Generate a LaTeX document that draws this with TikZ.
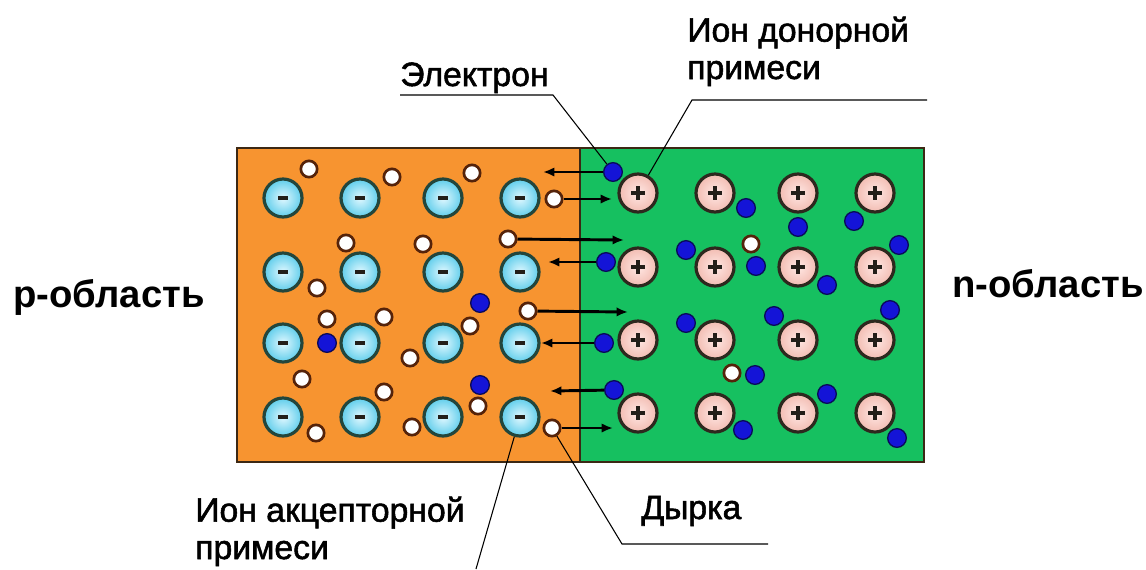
\documentclass[tikz,border=0pt]{standalone}
\usepackage{fontspec}
\setmainfont{Liberation Sans}
\newfontfamily\lblfont[FakeBold=1.6]{Liberation Sans}
\usetikzlibrary{arrows.meta}
\definecolor{porange}{RGB}{247,148,48}
\definecolor{ngreen}{RGB}{22,192,96}
\definecolor{boxline}{RGB}{60,40,20}
\definecolor{negring}{RGB}{35,70,60}
\definecolor{negin}{RGB}{225,248,255}
\definecolor{negout}{RGB}{95,205,235}
\definecolor{posring}{RGB}{45,40,30}
\definecolor{posin}{RGB}{255,232,228}
\definecolor{posout}{RGB}{242,188,178}
\definecolor{holering}{RGB}{85,35,10}
\definecolor{eblue}{RGB}{20,20,215}
\definecolor{ering}{RGB}{10,10,90}
\definecolor{signc}{RGB}{35,30,25}
\tikzset{
  negion/.style={circle, draw=negring, line width=2.4pt, minimum size=28.5pt, inner sep=0pt,
    inner color=negin, outer color=negout,
    path picture={\fill[signc] ([xshift=-3.9pt,yshift=-1.6pt]path picture bounding box.center) rectangle ([xshift=3.9pt,yshift=1.6pt]path picture bounding box.center);}},
  posion/.style={circle, draw=posring, line width=2.4pt, minimum size=28.5pt, inner sep=0pt,
    inner color=posin, outer color=posout,
    path picture={\fill[signc] ([xshift=-5.4pt,yshift=-1.3pt]path picture bounding box.center) rectangle ([xshift=5.4pt,yshift=1.3pt]path picture bounding box.center);
                  \fill[signc] ([xshift=-1.3pt,yshift=-5.4pt]path picture bounding box.center) rectangle ([xshift=1.3pt,yshift=5.4pt]path picture bounding box.center);}},
  hole/.style={circle, draw=holering, fill=white, line width=2pt, minimum size=12.25pt, inner sep=0pt},
  elec/.style={circle, draw=ering, fill=eblue, line width=1pt, minimum size=14pt, inner sep=0pt},
  arr/.style={draw=black, line width=2.2pt, -{Latex[length=8.5pt,width=7pt]}},
  leader/.style={draw=black, line width=0.8pt},
  lbl/.style={font=\lblfont\fontsize{25.3}{28}\selectfont, inner sep=0pt, anchor=base west, align=left},
  region/.style={font=\bfseries\fontsize{28.7}{32}\selectfont, inner sep=0pt, anchor=base west}
}
\begin{document}
\begin{tikzpicture}[x=0.75pt,y=-0.75pt]
\useasboundingbox (0,0) rectangle (1146,569);
\fill[white] (0,0) rectangle (1146,569);
% regions
\fill[porange] (237,148) rectangle (580,462);
\fill[ngreen] (580,148) rectangle (924,462);
\draw[boxline, line width=1.8pt] (237,148) rectangle (924,462);
\draw[boxline, line width=1.8pt] (580,148) -- (580,462);
% acceptor ions
\foreach \r/\y in {1/198,2/272,3/343,4/417}{
  \foreach \c/\x in {1/283,2/360,3/443,4/520}{
    \node[negion] (A\r\c) at (\x,\y) {};
  }
}
% donor ions
\foreach \r/\y in {1/193,2/267,3/340,4/413}{
  \foreach \c/\x in {1/638,2/715,3/798,4/875}{
    \node[posion] (D\r\c) at (\x,\y) {};
  }
}
% holes
\node[hole] (h1) at (309,169) {};
\node[hole] (h2) at (392,177) {};
\node[hole] (h3) at (472,173) {};
\node[hole] (h4) at (554,199) {};
\node[hole] (h5) at (346,243) {};
\node[hole] (h6) at (423,244) {};
\node[hole] (h7) at (508,239) {};
\node[hole] (h8) at (317,288) {};
\node[hole] (h9) at (528,311) {};
\node[hole] (h10) at (327,319) {};
\node[hole] (h11) at (384,317) {};
\node[hole] (h12) at (470,326) {};
\node[hole] (h13) at (410,358) {};
\node[hole] (h14) at (302,379) {};
\node[hole] (h15) at (384,392) {};
\node[hole] (h16) at (478,406) {};
\node[hole] (h17) at (316,433) {};
\node[hole] (h18) at (412,427) {};
\node[hole] (h19) at (552,428) {};
\node[hole] (h20) at (751,244) {};
\node[hole] (h21) at (732,373) {};
% electrons
\node[elec] (e1) at (613,172) {};
\node[elec] (e2) at (746,208) {};
\node[elec] (e3) at (798,227) {};
\node[elec] (e4) at (854,221) {};
\node[elec] (e5) at (686,250) {};
\node[elec] (e6) at (606,262) {};
\node[elec] (e7) at (756,266) {};
\node[elec] (e8) at (899,245) {};
\node[elec] (e9) at (827,285) {};
\node[elec] (e10) at (774,316) {};
\node[elec] (e11) at (890,310) {};
\node[elec] (e12) at (686,323) {};
\node[elec] (e13) at (604,343) {};
\node[elec] (e14) at (755,375) {};
\node[elec] (e15) at (614,390) {};
\node[elec] (e16) at (827,394) {};
\node[elec] (e17) at (743,430) {};
\node[elec] (e18) at (897,438) {};
\node[elec] (e19) at (480,303) {};
\node[elec] (e20) at (327,343) {};
\node[elec] (e21) at (480,385) {};
% diffusion arrows
\coordinate (a1) at (543,172);
\coordinate (a2) at (612,199);
\coordinate (a3) at (624,240);
\coordinate (a4) at (548,262);
\coordinate (a5) at (628,312);
\coordinate (a6) at (541,343);
\coordinate (a7) at (550,391);
\coordinate (a8) at (613,428);
\draw[arr] (e1) -- (a1);
\draw[arr] (h4) -- (a2);
\draw[arr] (h7) -- (a3);
\draw[arr] (e6) -- (a4);
\draw[arr] (h9) -- (a5);
\draw[arr] (e13) -- (a6);
\draw[arr] (e15) -- (a7);
\draw[arr] (h19) -- (a8);
% labels
\node[region] (preg) at (13,307) {p-область};
\node[region] (nreg) at (952,297) {n-область};
\node[lbl] (tel) at (400,86) {Электрон};
\node[lbl] (tdon) at (687,79) {Ион донорной\\примеси};
\node[lbl] (tacc) at (195,559) {Ион акцепторной\\примеси};
\node[lbl] (thole) at (641,519) {Дырка};
% leader lines
\coordinate (el0) at (400,95);
\coordinate (el1) at (553,95);
\draw[leader] (el0) -- (el1) -- (e1);
\coordinate (dn0) at (927,100);
\coordinate (dn1) at (692,100);
\draw[leader] (dn0) -- (dn1) -- (D11);
\coordinate (ac1) at (476,569);
\draw[leader] (A44) -- (ac1);
\coordinate (ho0) at (768,544);
\coordinate (ho1) at (622,544);
\draw[leader] (h19) -- (ho1) -- (ho0);
\end{tikzpicture}
\end{document}
